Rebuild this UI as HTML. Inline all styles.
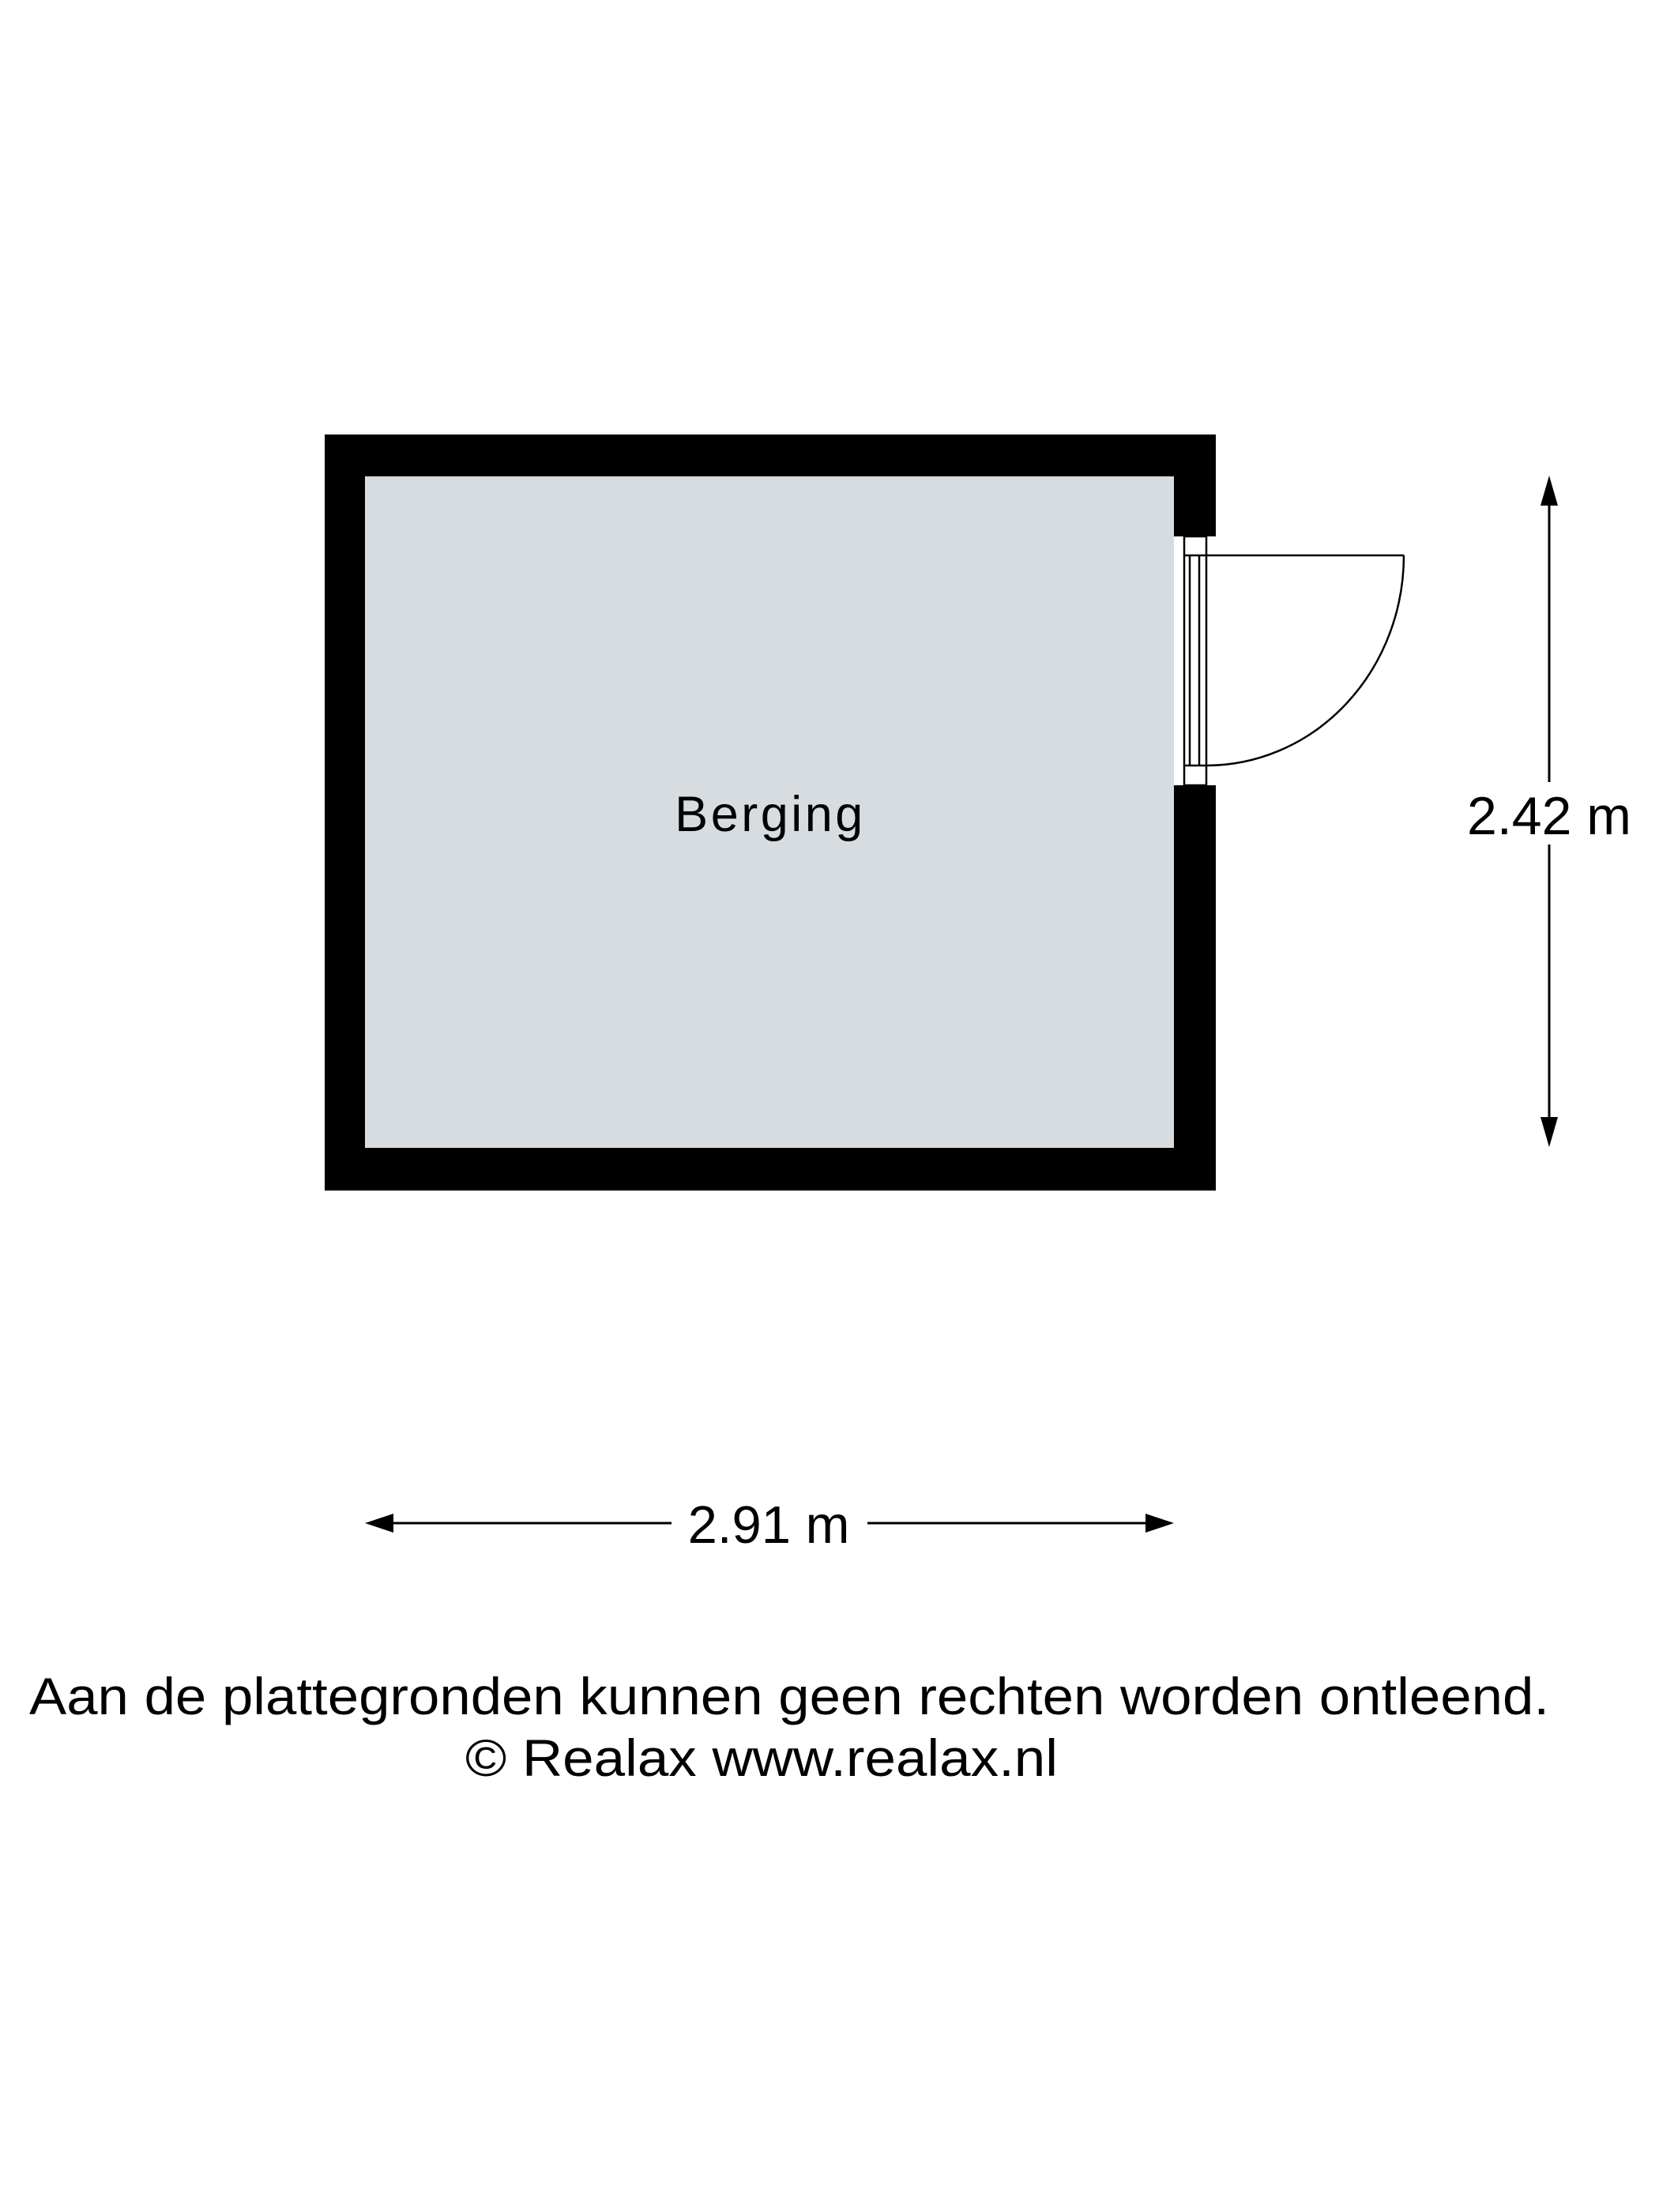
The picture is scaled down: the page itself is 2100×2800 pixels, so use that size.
<!DOCTYPE html>
<html><head><meta charset="utf-8"><style>html,body{margin:0;padding:0;background:#fff}svg{display:block}</style></head>
<body>
<svg width="2100" height="2800" viewBox="0 0 2100 2800" xmlns="http://www.w3.org/2000/svg">
<rect width="2100" height="2800" fill="#fff"/>
<!-- walls -->
<rect x="411" y="550" width="1128" height="957" fill="#000"/>
<rect x="462" y="603" width="1024" height="850" fill="#d7dce0"/>
<!-- door opening -->
<rect x="1486" y="679" width="54" height="315" fill="#fff"/>
<g fill="none" stroke="#000" stroke-width="2.5">
<rect x="1499" y="679" width="28" height="315"/>
<line x1="1499" y1="703" x2="1527" y2="703"/>
<line x1="1499" y1="969" x2="1527" y2="969"/>
<line x1="1506" y1="703" x2="1506" y2="969"/>
<line x1="1518" y1="703" x2="1518" y2="969"/>
<line x1="1527" y1="703" x2="1777" y2="703"/>
<path d="M1777 703 A250 266 0 0 1 1527 969"/>
</g>
<!-- vertical dimension -->
<g stroke="#000" stroke-width="3">
<line x1="1961" y1="620" x2="1961" y2="990"/>
<line x1="1961" y1="1069" x2="1961" y2="1435"/>
</g>
<polygon points="1961,602 1950,640 1972,640" fill="#000"/>
<polygon points="1961,1452 1950,1414 1972,1414" fill="#000"/>
<text x="1961" y="1056" font-family="Liberation Sans, Arial, sans-serif" font-size="68" text-anchor="middle" fill="#000">2.42 m</text>
<!-- horizontal dimension -->
<g stroke="#000" stroke-width="3">
<line x1="480" y1="1928" x2="850" y2="1928"/>
<line x1="1098" y1="1928" x2="1468" y2="1928"/>
</g>
<polygon points="462,1928 498,1916 498,1940" fill="#000"/>
<polygon points="1486,1928 1450,1916 1450,1940" fill="#000"/>
<text x="973" y="1953" font-family="Liberation Sans, Arial, sans-serif" font-size="67" text-anchor="middle" fill="#000">2.91 m</text>
<!-- label -->
<text x="975" y="1052" font-family="Liberation Sans, Arial, sans-serif" font-size="63" text-anchor="middle" letter-spacing="3.5" fill="#000">Berging</text>
<!-- footer -->
<text x="37" y="2170" font-family="Liberation Sans, Arial, sans-serif" font-size="66" textLength="1924" lengthAdjust="spacingAndGlyphs" fill="#000">Aan de plattegronden kunnen geen rechten worden ontleend.</text>
<text x="589" y="2248" font-family="Liberation Sans, Arial, sans-serif" font-size="66" textLength="750" lengthAdjust="spacingAndGlyphs" fill="#000">© Realax www.realax.nl</text>
</svg>
</body></html>
